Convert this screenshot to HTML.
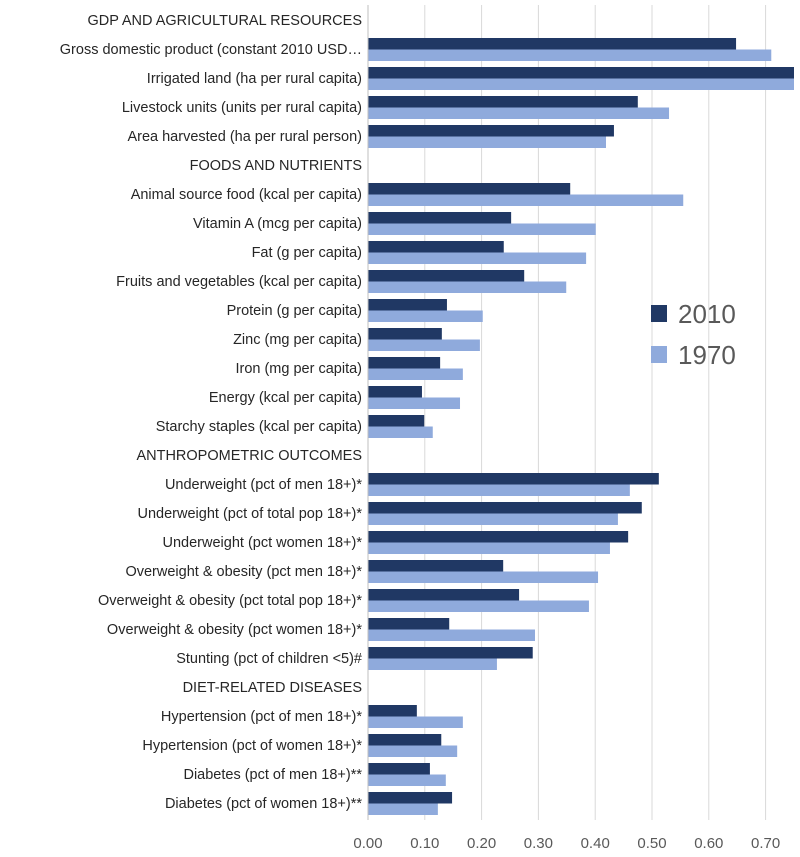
<!DOCTYPE html>
<html><head><meta charset="utf-8"><style>
body{margin:0;background:#fff;}
svg{display:block;font-family:"Liberation Sans",sans-serif;}
</style></head><body>
<svg id="chart" width="800" height="857"></svg>
<script>
const categories=["GDP AND AGRICULTURAL RESOURCES","Gross domestic product (constant 2010 USD…","Irrigated land (ha per rural capita)","Livestock units (units per rural capita)","Area harvested (ha per rural person)","FOODS AND NUTRIENTS","Animal source food (kcal per capita)","Vitamin A (mcg per capita)","Fat (g per capita)","Fruits and vegetables (kcal per capita)","Protein (g per capita)","Zinc (mg per capita)","Iron (mg per capita)","Energy (kcal per capita)","Starchy staples (kcal per capita)","ANTHROPOMETRIC OUTCOMES","Underweight (pct of men 18+)*","Underweight (pct of total pop 18+)*","Underweight (pct women 18+)*","Overweight & obesity (pct men 18+)*","Overweight & obesity (pct total pop 18+)*","Overweight & obesity (pct women 18+)*","Stunting (pct of children <5)#","DIET-RELATED DISEASES","Hypertension (pct of men 18+)*","Hypertension (pct of women 18+)*","Diabetes (pct of men 18+)**","Diabetes (pct of women 18+)**"];
const values2010=[null,0.648,0.75,0.475,0.433,null,0.356,0.252,0.239,0.275,0.139,0.130,0.127,0.095,0.099,null,0.512,0.482,0.458,0.238,0.266,0.143,0.290,null,0.086,0.129,0.109,0.148];
const values1970=[null,0.710,0.75,0.530,0.419,null,0.555,0.401,0.384,0.349,0.202,0.197,0.167,0.162,0.114,null,0.461,0.440,0.426,0.405,0.389,0.294,0.227,null,0.167,0.157,0.137,0.123];
const ticks=["0.00","0.10","0.20","0.30","0.40","0.50","0.60","0.70"];
const NS="http://www.w3.org/2000/svg";
const svg=document.getElementById('chart');
const x0=368,pxPer=568,maxV=0.75;
const xs=v=>x0+Math.min(v,maxV)*pxPer;
const yc=i=>20+i*29.0;
function mk(t,a){const e=document.createElementNS(NS,t);for(const k in a)e.setAttribute(k,a[k]);svg.appendChild(e);return e;}
ticks.forEach((t,i)=>{const v=parseFloat(t);const x=xs(v);
 if(v>0){const g=mk('line',{x1:x,x2:x,y1:5,y2:820,stroke:'#d9d9d9','stroke-width':1});
 
 }
 const tx=mk('text',{x:x,y:848,'text-anchor':'middle','font-size':15,fill:'#595959'});tx.textContent=t;
 
 
});
categories.forEach((c,i)=>{const y=yc(i);
 const t=mk('text',{x:362,y:y+5,'text-anchor':'end','font-size':14.5,fill:'#262626'});t.textContent=c;
 
 
 if(values2010[i]!=null){
  const b=mk('rect',{x:x0,y:y-11,width:xs(values2010[i])-x0,height:11.5,fill:'#203864'});
  
  
 }
 if(values1970[i]!=null){
  const b=mk('rect',{x:x0,y:y+0.5,width:xs(values1970[i])-x0,height:11.5,fill:'#8faadc'});
  
  
 }
});
const ax=mk('line',{x1:x0,x2:x0,y1:5,y2:820,stroke:'#bfbfbf','stroke-width':1});


[["2010","#203864",314],["1970","#8faadc",355]].forEach(([l,c,y])=>{
 const r=mk('rect',{x:651,y:y-9,width:16,height:17,fill:c});
 
 
 const t=mk('text',{x:678,y:y+9,'font-size':26,fill:'#595959'});t.textContent=l;
 
 
});
</script>
</body></html>
